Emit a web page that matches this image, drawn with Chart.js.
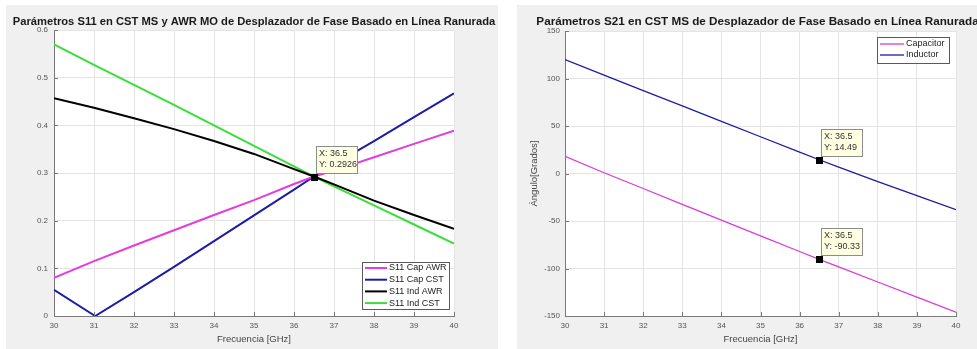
<!DOCTYPE html>
<html>
<head>
  <meta charset="UTF-8" />
  <title>Parámetros S11 / S21</title>
  <script src="https://cdn.jsdelivr.net/npm/chart.js"></script>
  <style>
    body {
      margin: 0;
      background: white;
      font-family: "Liberation Sans", Arial, sans-serif;
    }
    #wrap { position: relative; width: 977px; height: 349px; }
    #s11Chart { position: absolute; left: 0; top: 0; }
    #s21Chart { position: absolute; left: 517px; top: 0; }
  </style>
</head>
<body>
  <div id="wrap">
    <canvas id="s11Chart" width="517" height="349"></canvas>
    <canvas id="s21Chart" width="460" height="349"></canvas>
  </div>
  <script>
    // left plot: S11 magnitude
    const freqS11 = [30, 31, 32, 33, 34, 35, 36, 36.5, 37, 38, 39, 40];
    const freqCapCST = [30, 31.03, 32, 33, 34, 35, 36, 36.5, 37, 38, 39, 40];
    const capAWR = [0.080, 0.115, 0.148, 0.180, 0.212, 0.243, 0.277, 0.2926, 0.305, 0.333, 0.361, 0.389];
    const capCST = [0.055, 0.000, 0.050, 0.103, 0.157, 0.211, 0.265, 0.2926, 0.318, 0.367, 0.417, 0.467];
    const indAWR = [0.457, 0.437, 0.415, 0.392, 0.367, 0.340, 0.308, 0.2926, 0.276, 0.242, 0.212, 0.183];
    const indCST = [0.570, 0.527, 0.485, 0.443, 0.400, 0.357, 0.314, 0.2926, 0.272, 0.232, 0.192, 0.152];
    const s11Labels = ['S11 Cap AWR', 'S11 Cap CST', 'S11 Ind AWR', 'S11 Ind CST'];

    // right plot: S21 phase
    const freqS21 = [30, 31, 32, 33, 34, 35, 36, 36.5, 37, 38, 39, 40];
    const capacitor = [18, 0.8, -15.8, -32.5, -49.1, -65.6, -82.1, -90.33, -98.3, -114.2, -130.1, -146];
    const inductor = [120, 103.6, 87.3, 71.1, 54.9, 38.7, 22.6, 14.49, 6.7, -8.5, -23.4, -38];
    const s21Labels = ['Capacitor', 'Inductor'];

    const xTicks = [30, 31, 32, 33, 34, 35, 36, 37, 38, 39, 40];

    const AXIS = '#7a7a7a';
    const GRID = '#e4e4e4';
    const TXT = '#555555';
    const FONT = '"Liberation Sans", Arial, sans-serif';

    function pts(xs, ys) {
      return xs.map((x, i) => ({ x: x, y: ys[i] }));
    }

    // gray figure, white axes area, title, inward ticks, legend box, data tips
    const matlabLook = {
      id: 'matlabLook',
      beforeDraw(chart, args, o) {
        const ctx = chart.ctx, a = chart.chartArea;
        ctx.save();
        ctx.fillStyle = '#f0f0f0';
        ctx.fillRect(o.bg[0], o.bg[1], o.bg[2], o.bg[3]);
        ctx.fillStyle = '#ffffff';
        ctx.fillRect(a.left, a.top, a.right - a.left, a.bottom - a.top);
        ctx.restore();
      },
      afterDraw(chart, args, o) {
        const ctx = chart.ctx, a = chart.chartArea;
        const xs = chart.scales.x, ys = chart.scales.y;
        ctx.save();
        // inward ticks
        ctx.strokeStyle = AXIS;
        ctx.lineWidth = 1;
        ctx.beginPath();
        xs.ticks.forEach(t => {
          const px = Math.round(xs.getPixelForValue(t.value)) + 0.5;
          ctx.moveTo(px, a.bottom); ctx.lineTo(px, a.bottom - 4);
        });
        ys.ticks.forEach(t => {
          const py = Math.round(ys.getPixelForValue(t.value)) + 0.5;
          ctx.moveTo(a.left, py); ctx.lineTo(a.left + 4, py);
        });
        ctx.stroke();

        // title
        ctx.fillStyle = '#1a1a1a';
        ctx.font = 'bold ' + o.titleSize + 'px ' + FONT;
        ctx.textAlign = 'center';
        ctx.textBaseline = 'middle';
        ctx.fillText(o.title, (a.left + a.right) / 2 + o.titleDx, 22);

        // legend
        const lg = o.legend;
        ctx.fillStyle = '#ffffff';
        ctx.fillRect(lg.x, lg.y, lg.w, lg.h);
        ctx.strokeStyle = '#5a5a5a';
        ctx.strokeRect(lg.x + 0.5, lg.y + 0.5, lg.w, lg.h);
        ctx.font = '9px ' + FONT;
        ctx.textAlign = 'left';
        chart.data.datasets.forEach((ds, i) => {
          const cy = lg.y + lg.first + i * lg.step;
          ctx.strokeStyle = ds.borderColor;
          ctx.lineWidth = ds.borderWidth;
          ctx.beginPath();
          ctx.moveTo(lg.x + 3, cy); ctx.lineTo(lg.x + 3 + lg.line, cy);
          ctx.stroke();
          ctx.fillStyle = '#222';
          ctx.fillText(ds.label, lg.x + 5 + lg.line, cy);
        });

        // data tips
        o.tips.forEach(tp => {
          const ds = chart.data.datasets[tp.ds];
          const p = ds.data.find(d => d.x === tp.x);
          const mx = xs.getPixelForValue(p.x), my = ys.getPixelForValue(p.y);
          const bx = Math.round(mx + 2), by = Math.round(my - 4 - 27);
          ctx.fillStyle = '#ffffe1';
          ctx.fillRect(bx, by, 41, 27);
          ctx.strokeStyle = '#8c8c8c';
          ctx.lineWidth = 1;
          ctx.strokeRect(bx + 0.5, by + 0.5, 41, 27);
          ctx.fillStyle = '#333';
          ctx.font = '9px ' + FONT;
          ctx.textAlign = 'left';
          ctx.textBaseline = 'middle';
          ctx.fillText('X: ' + p.x, bx + 3, by + 8);
          ctx.fillText('Y: ' + Number(p.y.toPrecision(4)), bx + 3, by + 19);
          ctx.fillStyle = '#000';
          ctx.fillRect(Math.round(mx) - 3, Math.round(my) - 3, 7, 7);
        });
        ctx.restore();
      }
    };

    function xScale() {
      return {
        type: 'linear', min: 30, max: 40,
        afterBuildTicks: s => { s.ticks = xTicks.map(v => ({ value: v })); },
        afterFit: s => { s.height = 33; },
        ticks: { color: TXT, font: { size: 8, family: FONT }, padding: 5, maxRotation: 0 },
        grid: { color: GRID, drawTicks: false },
        border: { display: true, color: AXIS },
        title: { display: true, text: 'Frecuencia [GHz]', color: '#444', font: { size: 9.5, family: FONT }, padding: { top: 0, bottom: 4 } }
      };
    }

    new Chart(document.getElementById('s11Chart'), {
      type: 'scatter',
      data: {
        datasets: [
          { label: s11Labels[0], data: pts(freqS11, capAWR), borderColor: '#e23ce2', borderWidth: 2 },
          { label: s11Labels[1], data: pts(freqCapCST, capCST), borderColor: '#1c1ca6', borderWidth: 2 },
          { label: s11Labels[2], data: pts(freqS11, indAWR), borderColor: '#000000', borderWidth: 2 },
          { label: s11Labels[3], data: pts(freqS11, indCST), borderColor: '#3ade3a', borderWidth: 2 }
        ].map(d => Object.assign(d, { showLine: true, pointRadius: 0, tension: 0, fill: false }))
      },
      options: {
        responsive: false,
        animation: false,
        devicePixelRatio: 1,
        layout: { padding: { left: 0, right: 63, top: 30, bottom: 0 } },
        plugins: {
          legend: { display: false },
          tooltip: { enabled: false },
          matlabLook: {
            bg: [6, 5, 492, 344],
            title: 'Parámetros S11 en CST MS y AWR MO de Desplazador de Fase Basado en Línea Ranurada',
            titleSize: 11.2,
            titleDx: 0,
            legend: { x: 362, y: 262, w: 87, h: 47, first: 6, step: 11.7, line: 22 },
            tips: [{ ds: 0, x: 36.5 }]
          }
        },
        scales: {
          x: xScale(),
          y: {
            min: 0, max: 0.6,
            afterFit: s => { s.width = 54; },
            ticks: { stepSize: 0.1, color: TXT, font: { size: 8, family: FONT }, padding: 6 },
            grid: { color: GRID, drawTicks: false },
            border: { display: true, color: AXIS }
          }
        }
      },
      plugins: [matlabLook]
    });

    new Chart(document.getElementById('s21Chart'), {
      type: 'scatter',
      data: {
        datasets: [
          { label: s21Labels[0], data: pts(freqS21, capacitor), borderColor: '#d93ad9', borderWidth: 1.3 },
          { label: s21Labels[1], data: pts(freqS21, inductor), borderColor: '#1c1ca6', borderWidth: 1.3 }
        ].map(d => Object.assign(d, { showLine: true, pointRadius: 0, tension: 0, fill: false }))
      },
      options: {
        responsive: false,
        animation: false,
        devicePixelRatio: 1,
        layout: { padding: { left: 8, right: 21, top: 31, bottom: 0 } },
        plugins: {
          legend: { display: false },
          tooltip: { enabled: false },
          matlabLook: {
            bg: [0, 5, 460, 344],
            title: 'Parámetros S21 en CST MS de Desplazador de Fase Basado en Línea Ranurada',
            titleSize: 11.7,
            titleDx: -3,
            legend: { x: 360, y: 37, w: 72, h: 26, first: 7, step: 11, line: 24 },
            tips: [{ ds: 1, x: 36.5 }, { ds: 0, x: 36.5 }]
          }
        },
        scales: {
          x: xScale(),
          y: {
            min: -150, max: 150,
            afterFit: s => { s.width = 40; },
            ticks: { stepSize: 50, color: TXT, font: { size: 8, family: FONT }, padding: 5 },
            grid: { color: GRID, drawTicks: false },
            border: { display: true, color: AXIS },
            title: { display: true, text: 'Ángulo[Grados]', color: '#444', font: { size: 9.5, family: FONT }, padding: { top: 4, bottom: 0 } }
          }
        }
      },
      plugins: [matlabLook]
    });
  </script>
</body>
</html>
